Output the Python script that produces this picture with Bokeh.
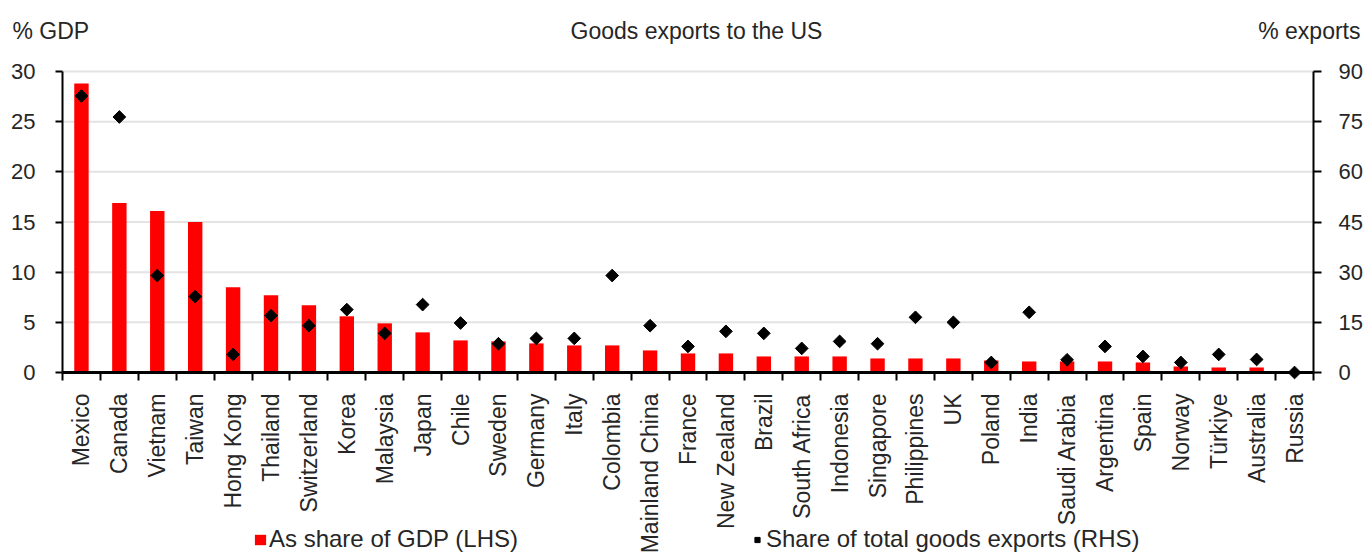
import math
from bokeh.plotting import figure
from bokeh.models import (Range1d, LinearAxis, FixedTicker, Label, Legend, LegendItem,
                          ColumnDataSource)
from bokeh.embed import file_html
from bokeh.resources import INLINE

countries = ["Mexico", "Canada", "Vietnam", "Taiwan", "Hong Kong", "Thailand", "Switzerland",
             "Korea", "Malaysia", "Japan", "Chile", "Sweden", "Germany", "Italy", "Colombia",
             "Mainland China", "France", "New Zealand", "Brazil", "South Africa", "Indonesia",
             "Singapore", "Philippines", "UK", "Poland", "India", "Saudi Arabia", "Argentina",
             "Spain", "Norway", "Türkiye", "Australia", "Russia"]
share_gdp = [28.8, 16.9, 16.1, 15.0, 8.5, 7.7, 6.7, 5.6, 4.9, 4.0, 3.2, 3.1, 2.9, 2.7, 2.7,
             2.2, 1.9, 1.9, 1.6, 1.6, 1.6, 1.4, 1.4, 1.4, 1.2, 1.1, 1.1, 1.1, 1.0, 0.6, 0.5,
             0.5, 0.0]
share_exports = [82.7, 76.4, 29.0, 22.7, 5.4, 17.0, 14.0, 18.8, 11.7, 20.3, 14.8, 8.6, 10.2,
                 10.2, 29.0, 14.0, 7.8, 12.3, 11.7, 7.2, 9.3, 8.6, 16.5, 15.0, 3.0, 18.0, 3.8,
                 7.8, 4.8, 3.0, 5.4, 3.9, 0.0]
lhs_ticks = [0, 5, 10, 15, 20, 25, 30]
rhs_ticks = [0, 15, 30, 45, 60, 75, 90]

FONT = "Liberation Sans"
TXT = "#262626"

n = len(countries)
centers = [i + 0.5 for i in range(n)]
bounds = [float(i) for i in range(n + 1)]
lhs_max, rhs_max = lhs_ticks[-1], rhs_ticks[-1]

# ---- layout (pixels) ----
W, H = 1366, 553
PL, PR, PT, PB = 62, 1313, 71, 372          # plot-area box inside the canvas
sx = (PR - PL) / n
sy = (PB - PT) / lhs_max
x_lo, x_hi = -PL / sx, n + (W - PR) / sx
y_lo, y_hi = -(H - PB) / sy, lhs_max + PT / sy
k = rhs_max / lhs_max

src = ColumnDataSource(dict(x=centers, gdp=share_gdp, exp=share_exports))

p = figure(width=W, height=H, output_backend="svg", toolbar_location=None,
           x_range=Range1d(x_lo, x_hi), y_range=Range1d(y_lo, y_hi),
           min_border=0, min_border_left=0, min_border_right=0, min_border_top=0,
           min_border_bottom=0, y_axis_location=None, x_axis_location=None)
p.extra_y_ranges = {"rhs": Range1d(y_lo * k, y_hi * k)}
p.outline_line_color = None
p.background_fill_color = "white"
p.xgrid.visible = False
p.ygrid.visible = False

# horizontal gridlines at the LHS ticks, across the category span
p.segment(x0=[0] * len(lhs_ticks), x1=[n] * len(lhs_ticks), y0=lhs_ticks, y1=lhs_ticks,
          line_color="#e3e3e3", line_width=2)

bars = p.vbar(x="x", top="gdp", width=0.38, bottom=0, source=src, fill_color="#ff0000",
              line_color=None)
dots = p.scatter(x="x", y="exp", source=src, y_range_name="rhs", marker="square",
                 angle=math.pi / 4, size=9, fill_color="black", line_color="black")

# x axis at y = 0
xax = LinearAxis(ticker=FixedTicker(ticks=centers, minor_ticks=bounds), fixed_location=0,
                 bounds=(0, n))
xax.major_label_overrides = {c: name for c, name in zip(centers, countries)}
xax.major_label_orientation = math.pi / 2
xax.major_tick_line_color = None
xax.minor_tick_out = 8
xax.minor_tick_in = 0
xax.minor_tick_line_width = 2
xax.minor_tick_line_color = "black"
xax.axis_line_width = 3
xax.axis_line_color = "black"
xax.major_label_standoff = 13
xax.major_label_text_font = FONT
xax.major_label_text_font_size = "23px"
xax.major_label_text_color = TXT
p.add_layout(xax, "below")

# left axis at x = 0
lax = LinearAxis(ticker=FixedTicker(ticks=lhs_ticks), fixed_location=0, bounds=(0, lhs_max))
lax.axis_line_width = 2
lax.axis_line_color = "black"
lax.major_tick_out = 7
lax.major_tick_in = 0
lax.major_tick_line_width = 2
lax.minor_tick_line_color = None
lax.major_label_standoff = 20
lax.major_label_text_font = FONT
lax.major_label_text_font_size = "22px"
lax.major_label_text_color = TXT
p.add_layout(lax, "left")

# right axis at x = n
rax = LinearAxis(y_range_name="rhs", ticker=FixedTicker(ticks=rhs_ticks), fixed_location=n,
                 bounds=(0, rhs_max))
rax.axis_line_width = 2
rax.axis_line_color = "black"
rax.major_tick_out = 8
rax.major_tick_in = 0
rax.major_tick_line_width = 2
rax.minor_tick_line_color = None
rax.major_label_standoff = 17
rax.major_label_text_font = FONT
rax.major_label_text_font_size = "22px"
rax.major_label_text_color = TXT
p.add_layout(rax, "right")

# header texts
hy = lhs_max + (PT - 30) / sy
for txt, xpix, align in [("% GDP", 12, "left"), ("Goods exports to the US", 696, "center"),
                         ("% exports", 1360, "right")]:
    p.add_layout(Label(x=x_lo + xpix / sx, y=hy, text=txt, text_align=align,
                       text_baseline="middle", text_font=FONT, text_font_size="23px",
                       text_color=TXT))

# legends
for rend, lab, loc in [(bars, "As share of GDP (LHS)", (253, 0)),
                       (dots, "Share of total goods exports (RHS)", (750, 0))]:
    lg = Legend(items=[LegendItem(label=lab, renderers=[rend])], location=loc,
                border_line_color=None, background_fill_alpha=0, padding=0, margin=0,
                glyph_width=14, glyph_height=13, label_standoff=2, label_height=20,
                label_text_font=FONT, label_text_font_size="24px", label_text_color=TXT)
    p.add_layout(lg, "center")

open("out.html", "w").write(file_html(p, INLINE))
